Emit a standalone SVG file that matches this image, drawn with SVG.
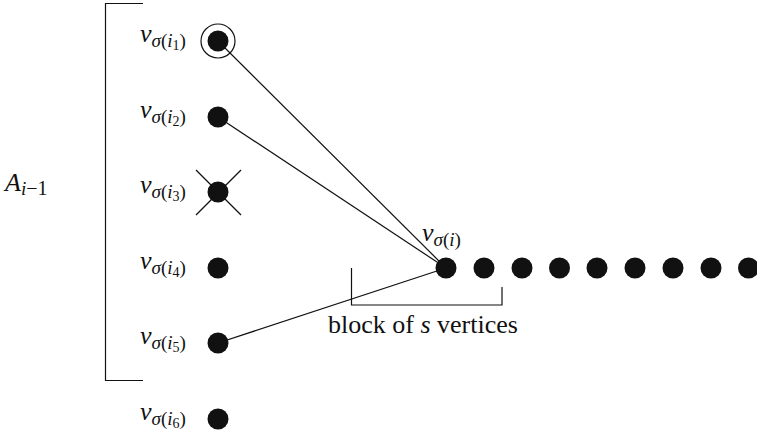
<svg xmlns="http://www.w3.org/2000/svg" width="757" height="435" viewBox="0 0 757 435">
<style>
.dot{fill:#111}
.ln{stroke:#111;stroke-width:1.2;fill:none}
.t{fill:#111;font-size:26px;font-family:"Liberation Serif","DejaVu Serif",serif}
.it{font-style:italic}
.up{font-style:normal}
.s1{font-size:19px}
.s2{font-size:14px}
</style>
<rect width="757" height="435" fill="#fff"/>
<g id="connectors">
<line class="ln" x1="218" y1="41" x2="446" y2="268"/>
<line class="ln" x1="218" y1="117" x2="446" y2="268"/>
<line class="ln" x1="218" y1="343" x2="446" y2="268"/>
</g>
<g id="bracket-A">
<polyline class="ln" points="143,3.5 105.5,3.5 105.5,380.5 143,380.5"/>
<text class="t it" x="5" y="191" font-size="28">A<tspan class="s1" dy="4" font-size="20">i</tspan><tspan class="up" font-size="20">−1</tspan></text>
</g>
<g id="v1">
<circle class="dot" cx="218" cy="41" r="10.5"/>
<circle class="ln" cx="218" cy="41" r="17"/>
<text class="t it" x="140" y="42">v<tspan class="s1" dy="5">σ</tspan><tspan class="s1 up">(</tspan><tspan class="s1">i</tspan><tspan class="s2 up" dy="3">1</tspan><tspan class="s1 up" dy="-3">)</tspan></text>
</g>
<g id="v2">
<circle class="dot" cx="218" cy="117" r="10.5"/>
<text class="t it" x="140" y="118">v<tspan class="s1" dy="5">σ</tspan><tspan class="s1 up">(</tspan><tspan class="s1">i</tspan><tspan class="s2 up" dy="3">2</tspan><tspan class="s1 up" dy="-3">)</tspan></text>
</g>
<g id="v3">
<circle class="dot" cx="218" cy="192" r="10.5"/>
<line class="ln" x1="196" y1="170" x2="241" y2="215"/>
<line class="ln" x1="241" y1="170" x2="196" y2="215"/>
<text class="t it" x="140" y="193">v<tspan class="s1" dy="5">σ</tspan><tspan class="s1 up">(</tspan><tspan class="s1">i</tspan><tspan class="s2 up" dy="3">3</tspan><tspan class="s1 up" dy="-3">)</tspan></text>
</g>
<g id="v4">
<circle class="dot" cx="218" cy="268" r="10.5"/>
<text class="t it" x="140" y="269">v<tspan class="s1" dy="5">σ</tspan><tspan class="s1 up">(</tspan><tspan class="s1">i</tspan><tspan class="s2 up" dy="3">4</tspan><tspan class="s1 up" dy="-3">)</tspan></text>
</g>
<g id="v5">
<circle class="dot" cx="218" cy="343" r="10.5"/>
<text class="t it" x="140" y="344">v<tspan class="s1" dy="5">σ</tspan><tspan class="s1 up">(</tspan><tspan class="s1">i</tspan><tspan class="s2 up" dy="3">5</tspan><tspan class="s1 up" dy="-3">)</tspan></text>
</g>
<g id="v6">
<circle class="dot" cx="218" cy="419" r="10.5"/>
<text class="t it" x="140" y="420">v<tspan class="s1" dy="5">σ</tspan><tspan class="s1 up">(</tspan><tspan class="s1">i</tspan><tspan class="s2 up" dy="3">6</tspan><tspan class="s1 up" dy="-3">)</tspan></text>
</g>
<g id="vi">
<circle class="dot" cx="446" cy="268" r="10.5"/>
<text class="t it" x="422" y="241">v<tspan class="s1" dy="5">σ</tspan><tspan class="s1 up">(</tspan><tspan class="s1">i</tspan><tspan class="s1 up">)</tspan></text>
</g>
<g id="row">
<circle class="dot" cx="484" cy="268" r="10.5"/>
<circle class="dot" cx="522" cy="268" r="10.5"/>
<circle class="dot" cx="559.5" cy="268" r="10.5"/>
<circle class="dot" cx="597" cy="268" r="10.5"/>
<circle class="dot" cx="635" cy="268" r="10.5"/>
<circle class="dot" cx="673" cy="268" r="10.5"/>
<circle class="dot" cx="711" cy="268" r="10.5"/>
<circle class="dot" cx="748.5" cy="268" r="10.5"/>
</g>
<g id="block">
<polyline class="ln" points="351.5,268 351.5,305 502,305 502,287"/>
<text class="t" x="328" y="333" font-size="25">block of <tspan class="it">s</tspan> vertices</text>
</g>
</svg>
